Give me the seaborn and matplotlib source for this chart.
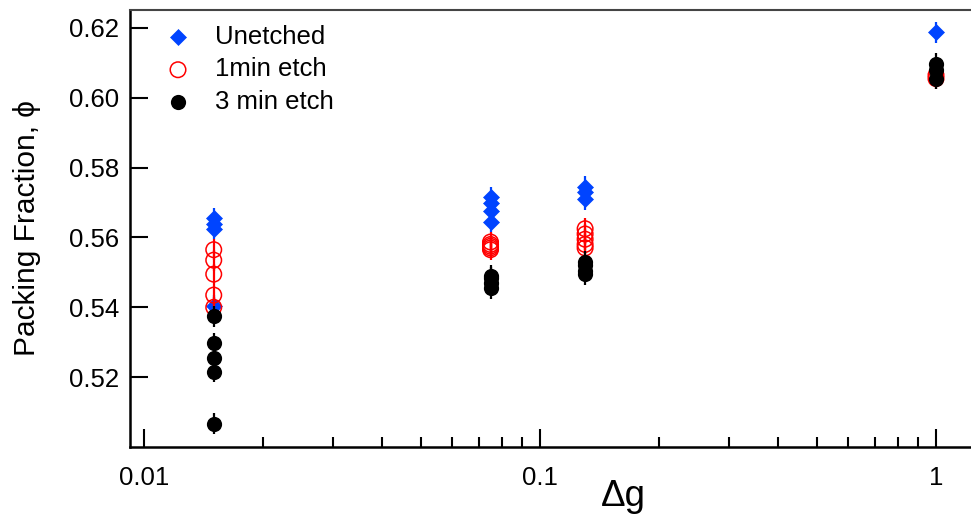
import matplotlib
matplotlib.use("Agg")
import matplotlib.pyplot as plt
import seaborn as sns
import pandas as pd
from matplotlib.ticker import FixedLocator, NullFormatter, FixedFormatter

# ---------------- data ----------------
unetched_x = [0.015, 0.015, 0.015, 0.015, 0.075, 0.075, 0.075, 0.075, 0.13, 0.13, 0.13, 1.0]
unetched_y = [0.5655, 0.5640, 0.5625, 0.5405, 0.5715, 0.5700, 0.5675, 0.5645, 0.5745, 0.5730, 0.5710, 0.6187]
unetched_err = [0.003] * len(unetched_x)

etch1_x = [0.015, 0.015, 0.015, 0.015, 0.015, 0.075, 0.075, 0.075, 0.075, 0.075, 0.13, 0.13, 0.13, 0.13, 0.13, 1.0, 1.0]
etch1_y = [0.5565, 0.5535, 0.5495, 0.5435, 0.5400, 0.5587, 0.5580, 0.5575, 0.5570, 0.5565, 0.5625, 0.5610, 0.5595, 0.5580, 0.5570, 0.6065, 0.6055]
etch1_err = [0.003] * len(etch1_x)

etch3_x = [0.015, 0.015, 0.015, 0.015, 0.015, 0.075, 0.075, 0.075, 0.075, 0.13, 0.13, 0.13, 0.13, 1.0, 1.0, 1.0]
etch3_y = [0.5375, 0.5297, 0.5256, 0.5215, 0.5066, 0.5490, 0.5485, 0.5470, 0.5455, 0.5530, 0.5520, 0.5505, 0.5495, 0.6097, 0.6080, 0.6055]
etch3_err = [0.003] * len(etch3_x)

series_labels = ["Unetched", "1min etch", "3 min etch"]
y_ticks = [0.52, 0.54, 0.56, 0.58, 0.60, 0.62]
y_tick_labels = ["0.52", "0.54", "0.56", "0.58", "0.60", "0.62"]
x_ticks = [0.01, 0.1, 1.0]
x_tick_labels = ["0.01", "0.1", "1"]

# ---------------- style ----------------
sns.set_style("white")
plt.rcParams["font.family"] = ["Liberation Sans", "DejaVu Sans"]
plt.rcParams["text.color"] = "black"
plt.rcParams["axes.labelcolor"] = "black"

BLUE = "#0044ff"
RED = "#ff0000"
BLACK = "#000000"

fig = plt.figure(figsize=(9.71, 5.19), dpi=100)
W, H = 971, 519
ax_left, ax_right, ax_top, ax_bottom = 130, 1116, 10, 447
ax = fig.add_axes([ax_left / W, (H - ax_bottom) / H,
                   (ax_right - ax_left) / W, (ax_bottom - ax_top) / H])

df_u = pd.DataFrame({"x": unetched_x, "y": unetched_y, "e": unetched_err})
df_1 = pd.DataFrame({"x": etch1_x, "y": etch1_y, "e": etch1_err})
df_3 = pd.DataFrame({"x": etch3_x, "y": etch3_y, "e": etch3_err})

# Unetched
ax.errorbar(df_u["x"], df_u["y"], yerr=df_u["e"], fmt="none", ecolor=BLUE,
            elinewidth=1.6, capsize=0, zorder=2.0)
sns.scatterplot(data=df_u, x="x", y="y", ax=ax, marker="D", s=66, color=BLUE,
                edgecolor=BLUE, linewidth=0.5, label=series_labels[0], zorder=2.1)
# 1 min etch
ax.errorbar(df_1["x"], df_1["y"], yerr=df_1["e"], fmt="none", ecolor=RED,
            elinewidth=1.6, capsize=0, zorder=2.2)
sns.scatterplot(data=df_1, x="x", y="y", ax=ax, marker="o", s=125,
                facecolor="none", edgecolor=RED, linewidth=1.1,
                label=series_labels[1], zorder=2.3)
# 3 min etch
ax.errorbar(df_3["x"], df_3["y"], yerr=df_3["e"], fmt="none", ecolor=BLACK,
            elinewidth=1.6, capsize=0, zorder=2.4)
sns.scatterplot(data=df_3, x="x", y="y", ax=ax, marker="o", s=120, color=BLACK,
                edgecolor=BLACK, linewidth=0, label=series_labels[2], zorder=2.5)

ax.set_xscale("log")
ax.set_xlim(10 ** (-2 - 14 / 396), 10 ** (-2 + (ax_right - 144) / 396))
ax.set_ylim(0.50, 0.62 + 18 / 3500)

ax.xaxis.set_major_locator(FixedLocator(x_ticks))
ax.xaxis.set_major_formatter(FixedFormatter(x_tick_labels))
minor = [m * d for d in (0.01, 0.1, 1.0) for m in range(2, 10)]
ax.xaxis.set_minor_locator(FixedLocator(minor))
ax.xaxis.set_minor_formatter(NullFormatter())
ax.yaxis.set_major_locator(FixedLocator(y_ticks))
ax.yaxis.set_major_formatter(FixedFormatter(y_tick_labels))

ax.tick_params(bottom=True, left=True, top=False, right=False, which="both")
ax.tick_params(axis="both", which="major", direction="in", length=13, width=1.5,
               labelsize=18.5, color="black", labelcolor="black")
ax.tick_params(axis="x", which="major", pad=14)
ax.tick_params(axis="y", which="major", pad=8)
ax.tick_params(axis="x", which="minor", direction="in", length=7, width=1.5,
               color="black", bottom=True)
ax.tick_params(axis="y", which="minor", left=False)

for side in ("left", "bottom"):
    ax.spines[side].set_color("black")
    ax.spines[side].set_linewidth(1.8)
ax.spines["top"].set_color("#444444")
ax.spines["top"].set_linewidth(1.5)
ax.spines["right"].set_visible(False)

ax.set_xlabel("Δg", fontsize=26.5, color="black")
ax.xaxis.set_label_coords(0.5, (ax_bottom - 479) / (ax_bottom - ax_top))
ax.set_ylabel("Packing Fraction, ϕ", fontsize=21.5, labelpad=20, color="black")

fs = 18.5
fs_px = fs * 100 / 72
ax_w = ax_right - ax_left
ax_h = ax_bottom - ax_top
leg = ax.legend(loc="upper left", frameon=False, fontsize=fs, scatterpoints=1,
                handlelength=1.0, handletextpad=0.95, borderpad=0, borderaxespad=0,
                labelspacing=0.33,
                bbox_to_anchor=((178 - fs_px / 2 - ax_left) / ax_w, 1 - 15 / ax_h))
for t in leg.get_texts():
    t.set_color("black")

fig.savefig("out.png", dpi=100)
